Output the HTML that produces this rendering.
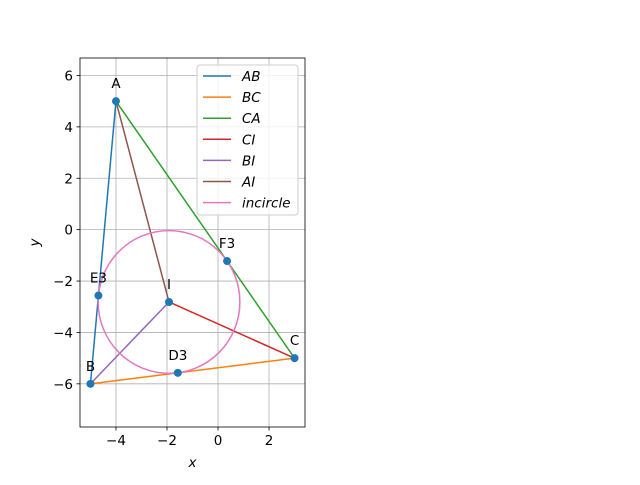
<!DOCTYPE html>
<html><head><meta charset="utf-8"><style>
body{margin:0;background:#fff}
svg{font-family:"DejaVu Sans","Liberation Sans",sans-serif}
</style></head><body>
<svg id="chart" width="640" height="480" viewBox="0 0 640 480" xmlns="http://www.w3.org/2000/svg">
<rect width="640" height="480" fill="#fff"/>
<g id="grid"></g>
<g id="plot"></g>
<g id="axes"></g>
<g id="legend"></g>
</svg>
<script>
const pointNames=["A","B","C","I","D3","E3","F3"];
const pointX=[-4,-5,3,-1.921,-1.576,-4.688,0.355];
const pointY=[5,-6,-5,-2.815,-5.572,-2.564,-1.222];
const segNames=["AB","BC","CA","CI","BI","AI"];
const segFrom=["A","B","C","C","B","A"];
const segTo=["B","C","A","I","I","I"];
const circleCenter=[-1.921,-2.815];
const circleRadius=[2.778];
const xTicks=[-4,-2,0,2];
const yTicks=[-6,-4,-2,0,2,4,6];
const colors=["#1f77b4","#ff7f0e","#2ca02c","#d62728","#9467bd","#8c564b","#e377c2"];

const L=80,R=305,T=58,B=427,xmin=-5.41,xmax=3.41,ymin=-7.68,ymax=6.68;
const sx=v=>L+(v-xmin)/(xmax-xmin)*(R-L);
const sy=v=>B-(v-ymin)/(ymax-ymin)*(B-T);
const NS="http://www.w3.org/2000/svg";
function mk(tag,attrs,parent){const e=document.createElementNS(NS,tag);for(const k in attrs)e.setAttribute(k,attrs[k]);parent.appendChild(e);return e;}
const grid=document.getElementById('grid'),plot=document.getElementById('plot'),axes=document.getElementById('axes'),leg=document.getElementById('legend');

xTicks.forEach(t=>{const x=sx(t);
 let g=mk('line',{x1:x,x2:x,y1:T,y2:B,stroke:'#b0b0b0','stroke-width':0.8},grid);
 
 mk('line',{x1:x,x2:x,y1:B,y2:B+3.5,stroke:'#000','stroke-width':0.8},axes);
 let tx=mk('text',{x:x,y:B+18,'text-anchor':'middle','font-size':13.5},axes);tx.textContent=(t<0?'\u2212'+(-t):t);
 });
yTicks.forEach(t=>{const y=sy(t);
 let g=mk('line',{x1:L,x2:R,y1:y,y2:y,stroke:'#b0b0b0','stroke-width':0.8},grid);
 
 mk('line',{x1:L-3.5,x2:L,y1:y,y2:y,stroke:'#000','stroke-width':0.8},axes);
 let tx=mk('text',{x:L-7,y:y+5,'text-anchor':'end','font-size':13.5},axes);tx.textContent=(t<0?'\u2212'+(-t):t);
 });

const P=n=>{const i=pointNames.indexOf(n);return [sx(pointX[i]),sy(pointY[i])];};
segNames.forEach((n,i)=>{const a=P(segFrom[i]),b=P(segTo[i]);
 let l=mk('line',{x1:a[0],y1:a[1],x2:b[0],y2:b[1],stroke:colors[i],'stroke-width':1.5},plot);
 });
const cx=sx(circleCenter[0]),cy=sy(circleCenter[1]);
let c=mk('ellipse',{cx:cx,cy:cy,rx:sx(circleCenter[0]+circleRadius[0])-cx,ry:cy-sy(circleCenter[1]+circleRadius[0]),fill:'none',stroke:colors[6],'stroke-width':1.5},plot);

pointNames.forEach((n,i)=>{const x=sx(pointX[i]),y=sy(pointY[i]);
 let p=mk('circle',{cx:x,cy:y,r:4,fill:'#1f77b4'},plot);
 
 let t=mk('text',{x:x,y:y-13,'font-size':13.5,'text-anchor':'middle'},plot);t.textContent=n;
 });

mk('rect',{x:L,y:T,width:R-L,height:B-T,fill:'none',stroke:'#000','stroke-width':0.8},axes);
let xl=mk('text',{x:(L+R)/2,y:467,'text-anchor':'middle','font-size':13.5,'font-style':'italic'},axes);xl.textContent='x';

let yl=mk('text',{x:39,y:(T+B)/2,'text-anchor':'middle','font-size':13.5,'font-style':'italic',transform:'rotate(-90 39 '+((T+B)/2)+')'},axes);yl.textContent='y';


let lb=mk('rect',{x:197,y:65,width:101,height:150,rx:3,fill:'#fff','fill-opacity':0.8,stroke:'#ccc','stroke-width':1},leg);

const legLabels=segNames.concat(['incircle']);
legLabels.forEach((n,i)=>{const y=76+i*21.1;
 let g=mk('g',{},leg);
 
 mk('line',{x1:203,x2:231,y1:y,y2:y,stroke:colors[i],'stroke-width':1.5},g);
 let t=mk('text',{x:242,y:y+5,'font-size':13.5,'font-style':'italic'},g);t.textContent=n;});
</script>
</body></html>
